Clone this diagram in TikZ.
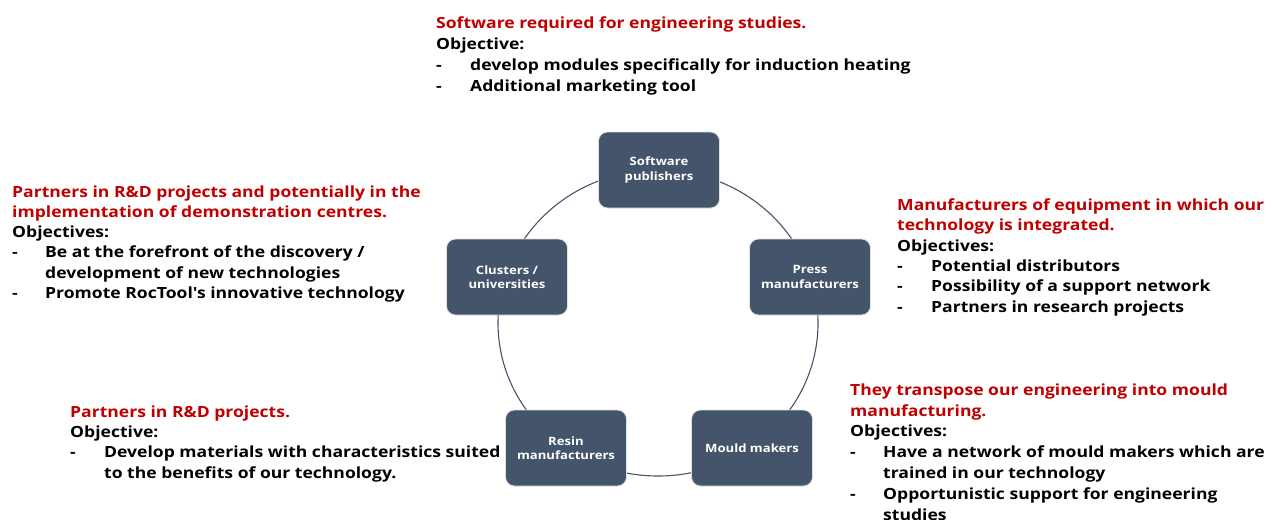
\documentclass[tikz,border=0pt]{standalone}
\usepackage{fontspec}
\setmainfont{Open Sans}[FakeStretch=1.14, Ligatures=TeXOff]
\definecolor{boxc}{HTML}{44546A}
\definecolor{redc}{HTML}{C00000}
\newcommand{\dashitem}[2]{\makebox[#1][l]{-}#2}
\newcommand{\contline}[2]{\hspace*{#1}#2}
\begin{document}
\begin{tikzpicture}[x=1pt,y=-1pt,
  stake/.style={draw=gray!25, line width=0.8pt, fill=boxc, rounded corners=9pt,
    minimum width=121pt, minimum height=76pt, text=white, align=center,
    font=\fontsize{11.5}{14.5}\selectfont\bfseries},
  blk/.style={anchor=base west, inner sep=0pt, align=left},
  fa/.style={font=\fontsize{15.4}{21.3}\selectfont\bfseries},
  fb/.style={font=\fontsize{15.4}{20.3}\selectfont\bfseries},
  fc/.style={font=\fontsize{15.4}{20.8}\selectfont\bfseries},
  ring/.style={draw=boxc, line width=1.1pt}]
\useasboundingbox (0,0) rectangle (1276,519);
\clip (0,0) rectangle (1276,519);
\draw[ring] (658,323) ellipse [x radius=160, y radius=153];
\node[stake] (sw) at (659,170) {Software\\publishers};
\node[stake] (press) at (810,277) {Press\\manufacturers};
\node[stake] (mould) at (752,448) {Mould makers};
\node[stake] (resin) at (566,448) {Resin\\manufacturers};
\node[stake] (clust) at (507,277) {Clusters /\\universities};

% anchors are at the baseline of the last line of each block
\node[blk,fa] (tsw) at (436,92) {\textcolor{redc}{Software required for engineering studies.}\\
Objective:\\
\dashitem{34pt}{develop modules specifically for induction heating}\\
\dashitem{34pt}{Additional marketing tool}};

\node[blk,fb] (tcl) at (12,298.5) {\textcolor{redc}{Partners in R\&D projects and potentially in the}\\
\textcolor{redc}{implementation of demonstration centres.}\\
Objectives:\\
\dashitem{33pt}{Be at the forefront of the discovery /}\\
\contline{33pt}{development of new technologies}\\
\dashitem{33pt}{Promote RocTool's innovative technology}};

\node[blk,fb] (tpr) at (897,312) {\textcolor{redc}{Manufacturers of equipment in which our}\\
\textcolor{redc}{technology is integrated.}\\
Objectives:\\
\dashitem{34pt}{Potential distributors}\\
\dashitem{34pt}{Possibility of a support network}\\
\dashitem{34pt}{Partners in research projects}};

\node[blk,fc] (tmo) at (850,520) {\textcolor{redc}{They transpose our engineering into mould}\\
\textcolor{redc}{manufacturing.}\\
Objectives:\\
\dashitem{33pt}{Have a network of mould makers which are}\\
\contline{33pt}{trained in our technology}\\
\dashitem{33pt}{Opportunistic support for engineering}\\
\contline{33pt}{studies}};

\node[blk,fb] (tre) at (70,478) {\textcolor{redc}{Partners in R\&D projects.}\\
Objective:\\
\dashitem{34pt}{Develop materials with characteristics suited}\\
\contline{34pt}{to the benefits of our technology.}};
\end{tikzpicture}
\end{document}
